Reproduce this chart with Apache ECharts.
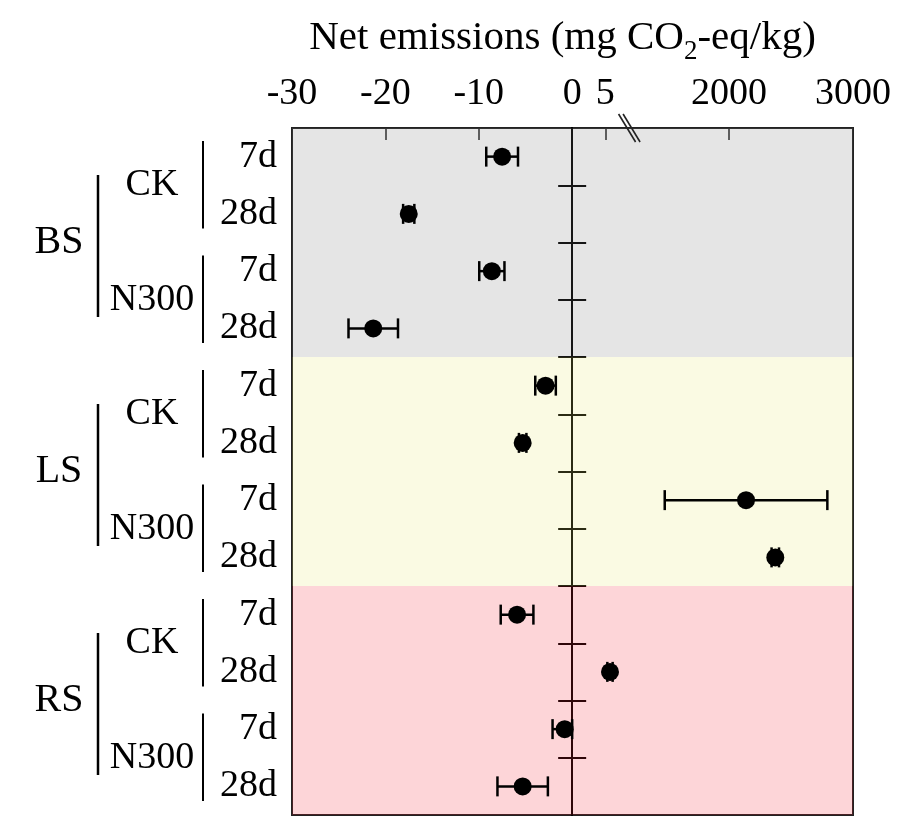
<!DOCTYPE html>
<html><head><meta charset="utf-8">
<script src="https://cdn.jsdelivr.net/npm/echarts@6/dist/echarts.min.js"></script>
<style>html,body{margin:0;padding:0;background:#fff}#c{width:922px;height:822px}</style>
</head><body><div id="c"></div>
<script>
// ---- data ----
const soils = ['BS', 'LS', 'RS'];
const treatments = ['CK', 'N300', 'CK', 'N300', 'CK', 'N300'];
const days = ['7d', '28d', '7d', '28d', '7d', '28d', '7d', '28d', '7d', '28d', '7d', '28d'];
const netEmission = [-7.5, -17.5, -8.6, -21.3, -2.85, -5.3, 2137, 2373, -5.9, 5.7, -0.8, -5.3];
const errorSD = [1.7, 0.6, 1.35, 2.65, 1.1, 0.4, 656, 30, 1.75, 0.4, 1.3, 2.7];
const tickValues = [-30, -20, -10, 0, 5, 2000, 3000];
const tickLabels = ['-30', '-20', '-10', '0', '5', '2000', '3000'];
const innerTickValues = [-20, -10, 5, 2000];
const breakValue = 8.5;

// ---- broken-axis scale (piecewise linear) ----
function f(v) {
  if (v <= 0) return v;
  if (v < 1000) return v * 0.7107;
  return 16.80 + (v - 2000) * 0.013272;
}
const XMIN = f(-30), XMAX = f(3000);
const FONT = 'Liberation Serif';
const rowTicks = days.slice(1).map((_, i) => i + 0.5);
const soilSpan = days.length / soils.length;
const trtSpan = days.length / treatments.length;

const chart = echarts.init(document.getElementById('c'), null, {renderer: 'canvas'});

const scatterData = netEmission.map((v, i) => [f(v), i]);
// error bars are clipped to the axis segment that holds the mean
const errData = netEmission.map((v, i) => {
  const lo = v - errorSD[i];
  const hi = v <= 0 ? Math.min(v + errorSD[i], 0) : v + errorSD[i];
  return [f(lo), f(hi), i];
});
const bracketData = treatments.map((t, k) => [k * trtSpan, (k + 1) * trtSpan - 1, 1])
  .concat(soils.map((s, k) => [k * soilSpan, (k + 1) * soilSpan - 1, 2]));

const bandColors = ['rgba(118,118,118,0.19)', 'rgba(229,229,108,0.19)', 'rgba(244,34,50,0.19)'];

const zeroAxis = (pos) => ({
  type: 'value', min: -0.5, max: 11.5, inverse: true, position: pos,
  axisLine: {show: true, onZero: true, onZeroAxisIndex: 0, lineStyle: {color: '#000', width: 2}},
  axisTick: {show: true, inside: true, length: 14, customValues: rowTicks, lineStyle: {color: '#000', width: 2}},
  axisLabel: {show: false}, splitLine: {show: false}
});

const option = {
  animation: false,
  backgroundColor: '#fff',
  grid: {left: 292, right: 69, top: 128, bottom: 7, show: true, borderColor: '#222', borderWidth: 2,
         backgroundColor: 'transparent', outerBoundsMode: 'none'},
  xAxis: {
    type: 'value', position: 'top', min: XMIN, max: XMAX,
    axisLine: {show: false, onZero: false},
    splitLine: {show: false},
    axisTick: {show: true, inside: true, length: 12, customValues: innerTickValues.map(f),
               lineStyle: {color: '#222', width: 1.5}},
    axisLabel: {
      customValues: tickValues.map(f),
      formatter: function (v) {
        for (let i = 0; i < tickValues.length; i++) if (Math.abs(f(tickValues[i]) - v) < 1e-6) return tickLabels[i];
        return '';
      },
      fontFamily: FONT, fontSize: 38, color: '#000', margin: 15
    },
    name: '{a|Net emissions (mg CO}{s|2}{a|-eq/kg)}',
    nameLocation: 'middle', nameGap: 63,
    nameTextStyle: {
      padding: [0, 20, 0, 0],
      rich: {
        a: {fontFamily: FONT, fontSize: 41, color: '#000', verticalAlign: 'bottom', padding: [0, 0, 6, 0]},
        s: {fontFamily: FONT, fontSize: 27, color: '#000', verticalAlign: 'bottom'}
      }
    }
  },
  yAxis: [
    {
      type: 'value', min: -0.5, max: 11.5, inverse: true, position: 'left',
      axisLine: {show: false, onZero: false}, axisTick: {show: false}, splitLine: {show: false},
      axisLabel: {customValues: days.map((_, i) => i), formatter: v => days[Math.round(v)],
                  fontFamily: FONT, fontSize: 38, color: '#000', margin: 15}
    },
    {
      type: 'category', data: treatments, inverse: true, position: 'left',
      axisLine: {show: false, onZero: false}, axisTick: {show: false}, splitLine: {show: false},
      axisLabel: {interval: 0, align: 'center', fontFamily: FONT, fontSize: 38, color: '#000', margin: 140}
    },
    {
      type: 'category', data: soils, inverse: true, position: 'left',
      axisLine: {show: false, onZero: false}, axisTick: {show: false}, splitLine: {show: false},
      axisLabel: {interval: 0, align: 'center', fontFamily: FONT, fontSize: 40, color: '#000', margin: 233}
    },
    zeroAxis('left'),
    zeroAxis('right')
  ],
  series: [
    {
      type: 'custom', name: 'err', yAxisIndex: 0, z: 2,
      data: errData,
      renderItem: function (params, api) {
        const a = api.coord([api.value(0), api.value(2)]);
        const b = api.coord([api.value(1), api.value(2)]);
        const h = 10;
        const st = {stroke: '#000', lineWidth: 2.5};
        return {type: 'group', children: [
          {type: 'line', shape: {x1: a[0], y1: a[1], x2: b[0], y2: b[1]}, style: st},
          {type: 'line', shape: {x1: a[0], y1: a[1] - h, x2: a[0], y2: a[1] + h}, style: st},
          {type: 'line', shape: {x1: b[0], y1: b[1] - h, x2: b[0], y2: b[1] + h}, style: st}
        ]};
      }
    },
    {
      type: 'scatter', name: 'mean', yAxisIndex: 0, z: 3,
      symbol: 'circle', symbolSize: 18, itemStyle: {color: '#000', opacity: 1},
      data: scatterData
    },
    {
      type: 'custom', name: 'brackets', yAxisIndex: 0, clip: false, z: 3,
      data: bracketData,
      renderItem: function (params, api) {
        const level = api.value(2);
        const top = api.coord([0, api.value(0) - 0.5])[1];
        const bot = api.coord([0, api.value(1) + 0.5])[1];
        const gx = params.coordSys.x;
        const x = level === 1 ? gx - 89 : gx - 194;
        const t = level === 1 ? 13 : 47;
        const bb = level === 1 ? 14 : 40;
        return {type: 'line', shape: {x1: x, y1: top + t, x2: x, y2: bot - bb},
                style: {stroke: '#000', lineWidth: level === 1 ? 2 : 2.5}};
      }
    },
    {
      type: 'scatter', name: 'bands', yAxisIndex: 0, z: 10, data: [],
      markArea: {
        silent: true,
        data: soils.map((s, k) => [
          {xAxis: XMIN, yAxis: k * soilSpan - 0.5, itemStyle: {color: bandColors[k]}},
          {xAxis: XMAX, yAxis: (k + 1) * soilSpan - 0.5}
        ])
      }
    }
  ]
};
chart.setOption(option);

// axis-break marks on the top border
const bx = chart.convertToPixel({xAxisIndex: 0}, f(breakValue));
const by = chart.getModel().getComponent('grid').coordinateSystem.getRect().y;
chart.setOption({
  graphic: [0, 4.5].map(dx => ({
    type: 'line', z: 100,
    shape: {x1: bx - 10 + dx, y1: by - 14, x2: bx + 7 + dx, y2: by + 14},
    style: {stroke: '#222', lineWidth: 1.6}
  }))
});
</script>
</body></html>
